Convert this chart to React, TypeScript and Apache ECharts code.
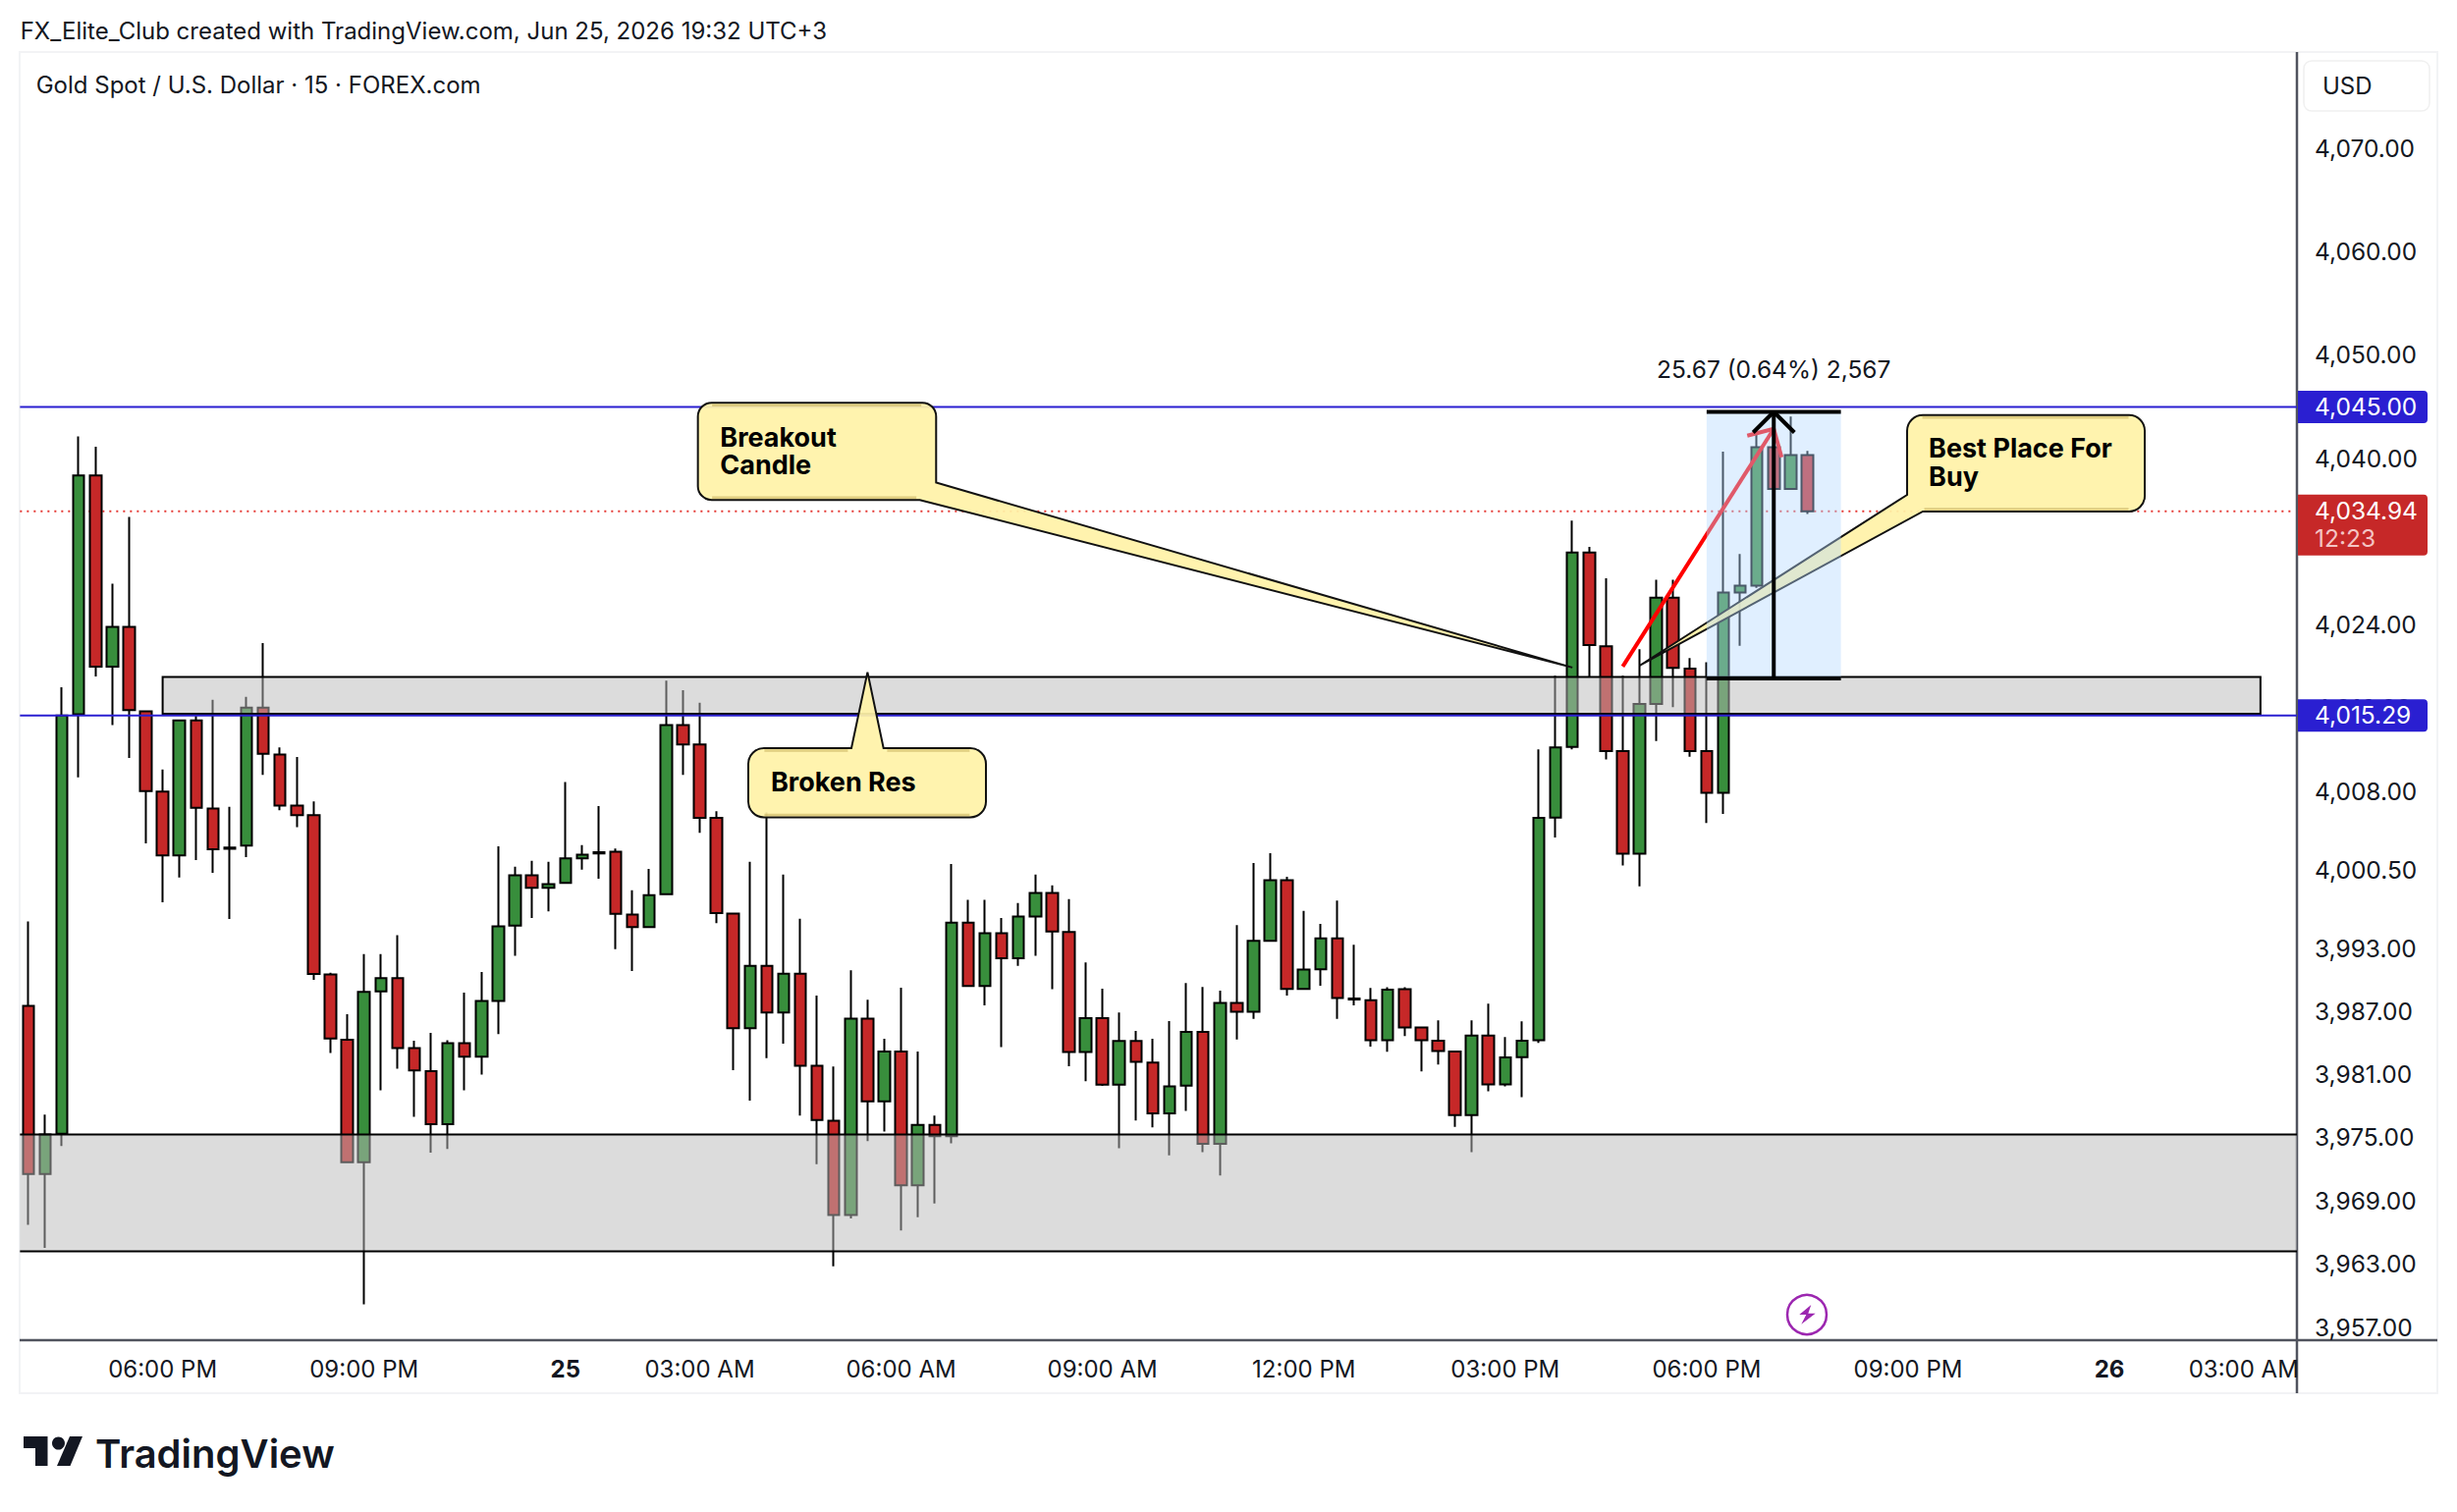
import React, { useEffect, useRef } from "react";
import * as echarts from "echarts";

const opens = [3987.53,3971.55,3975.35,4015.40,4038.39,4019.98,4023.80,4015.69,4007.99,4001.90,
4014.83,4006.38,4002.65,4002.82,4016.04,4011.55,4006.67,4005.75,3990.52,3984.31,
3972.65,3988.91,3990.18,3983.51,3981.32,3976.27,3983.97,3982.70,3987.99,3995.18,
4000.00,3998.80,3999.26,4001.61,4002.19,4002.25,3996.25,3995.04,3998.18,4014.37,
4012.52,4005.48,3996.34,3985.39,3991.35,3986.90,3990.59,3981.83,3976.59,3967.66,
3986.32,3978.43,3983.17,3970.47,3976.21,3975.12,3995.46,3989.42,3994.45,3992.06,
3996.04,3998.31,3994.58,3983.13,3986.36,3980.03,3984.18,3982.13,3977.30,3979.94,
3985.06,3974.41,3987.80,3986.97,3993.73,3999.52,3989.14,3991.01,3993.96,3988.24,
3988.07,3984.26,3989.11,3985.46,3984.22,3983.19,3977.13,3984.69,3980.04,3982.65,
3984.26,4005.51,4012.28,4030.96,4021.95,4011.87,4002.06,4016.40,4026.62,4019.79,
4011.87,4007.88,4027.10,4027.78,4041.11,4037.08,4040.36];
const closes = [3971.55,3975.29,4015.29,4038.39,4019.98,4023.80,4015.81,4008.05,4001.90,4014.83,
4006.44,4002.47,4002.53,4016.04,4011.61,4006.67,4005.75,3990.58,3984.43,3972.65,
3988.85,3990.18,3983.51,3981.38,3976.27,3983.97,3982.70,3987.99,3995.12,4000.00,
3998.80,3999.14,4001.61,4001.96,4002.07,3996.30,3995.04,3998.10,4014.37,4012.52,
4005.48,3996.38,3985.39,3991.35,3986.90,3990.59,3981.83,3976.67,3967.66,3986.32,
3978.43,3983.17,3970.47,3976.21,3975.12,3995.46,3989.42,3994.45,3992.06,3996.04,
3998.31,3994.62,3983.13,3986.36,3980.03,3984.18,3982.21,3977.30,3979.86,3985.06,
3974.41,3987.80,3986.97,3993.73,3999.52,3989.14,3990.98,3993.96,3988.27,3988.14,
3984.26,3989.08,3985.46,3984.26,3983.22,3977.13,3984.69,3980.04,3982.62,3984.22,
4005.48,4012.24,4030.96,4022.06,4011.87,4002.06,4016.40,4026.62,4019.86,4011.87,
4007.88,4027.10,4027.78,4041.11,4037.08,4040.36,4034.94];
const highs = [3995.58,3977.19,4018.01,4042.16,4041.17,4027.97,4034.40,4015.69,4010.12,4014.83,
4015.24,4016.79,4006.55,4017.09,4022.24,4012.24,4011.32,4007.07,3990.69,3986.73,
3992.47,3992.47,3994.26,3984.20,3984.95,3984.26,3988.80,3990.75,4002.76,4000.81,
4001.38,4001.27,4008.91,4002.88,4006.61,4002.54,3998.56,4000.61,4018.64,4017.72,
4016.51,4006.11,3996.34,4001.29,4006.02,4000.07,3995.83,3988.50,3981.75,3990.93,
3988.12,3984.39,3989.25,3983.17,3977.09,4001.08,3997.64,3997.64,3995.92,3997.34,
4000.07,3999.02,3997.72,3991.68,3989.17,3986.90,3985.14,3984.39,3986.07,3989.71,
3989.34,3988.98,3995.24,4001.16,4002.10,3999.86,3996.58,3995.34,3997.58,3993.36,
3989.24,3989.31,3989.31,3985.56,3986.16,3983.19,3986.16,3987.74,3984.56,3986.06,
4012.04,4019.11,4034.04,4031.50,4028.49,4019.11,4021.65,4028.35,4028.35,4020.80,
4020.40,4040.70,4030.82,4042.56,4041.11,4044.09,4040.77];
const lows = [3966.73,3964.54,3974.20,4009.37,4019.05,4014.37,4011.21,4003.05,3997.42,3999.77,
4001.44,4000.23,3995.81,4001.73,4009.60,4006.21,4004.60,3990.00,3983.05,3972.65,
3959.20,3979.49,3981.55,3976.96,3973.57,3973.91,3979.49,3980.98,3984.83,3992.30,
3995.92,3996.55,3999.26,4000.52,3999.66,3992.94,3990.85,3995.04,3998.18,4009.59,
4004.05,3995.42,3981.41,3978.52,3982.54,3983.93,3977.09,3972.48,3962.80,3967.32,
3974.66,3975.58,3966.19,3967.45,3968.75,3974.45,3989.42,3987.58,3983.59,3991.35,
3992.31,3989.13,3981.79,3980.36,3979.90,3973.99,3976.63,3975.96,3973.32,3977.53,
3973.61,3971.40,3984.32,3986.30,3993.73,3988.51,3989.14,3989.44,3986.30,3987.57,
3983.65,3983.15,3984.66,3981.28,3981.95,3976.02,3973.61,3979.40,3979.87,3978.83,
3983.99,4003.61,4012.04,4018.98,4011.09,4000.94,3998.94,4012.85,4016.10,4011.33,
4005.00,4005.85,4021.99,4027.57,4037.08,4037.08,4034.68];

const slotCount = 136;
const timeLabels: Record<number, string> = {
  8: "06:00 PM", 20: "09:00 PM", 32: "25", 40: "03:00 AM", 52: "06:00 AM", 64: "09:00 AM",
  76: "12:00 PM", 88: "03:00 PM", 100: "06:00 PM", 112: "09:00 PM", 124: "26", 132: "03:00 AM",
};
const priceTicks = [4070, 4060, 4050, 4040, 4024, 4016, 4008, 4000.5, 3993, 3987, 3981, 3975, 3969, 3963, 3957];
const levelPrices = [4045, 4015.29];
const lastPrice = 4034.94;
const countdown = "12:23";
const zones = [
  { from: 8, to: 133, top: 4019.0, bottom: 4015.45 },
  { from: -1, to: -1, top: 3975.3, bottom: 3964.2 },
];
const rangeBox = { from: 100, to: 108, mid: 104, top: 4044.53, bottom: 4018.86, text: "25.67 (0.64%) 2,567" };
const trendArrow = { from: [95, 4020.0], to: [104, 4042.9] };
const noteTips = [
  { i: 92, p: 4019.9 },
  { i: 50, p: 4019.45 },
  { i: 96, p: 4020.08 },
];

const AXIS_X = 2339;
const GREEN = "#388e3c";
const RED = "#c62828";
const BLUE = "#2a1fd1";
const INK = "#131722";
const FONT = "Inter, Roboto, sans-serif";
const FILL = "rgba(255,242,168,0.93)";
const SHADE = "rgba(190,165,80,0.5)";

const money = (n: number) =>
  n.toLocaleString("en-US", { minimumFractionDigits: 2, maximumFractionDigits: 2 });

function rounded(x0: number, y0: number, x1: number, y1: number, r: number, tail: string) {
  return tail
    .replace("TL", `M${x0 + r} ${y0}`)
    .replace("TR", `H${x1 - r} A${r} ${r} 0 0 1 ${x1} ${y0 + r}`)
    .replace("BR", `V${y1 - r} A${r} ${r} 0 0 1 ${x1 - r} ${y1}`)
    .replace("BL", `H${x0 + r} A${r} ${r} 0 0 1 ${x0} ${y1 - r}`)
    .replace("END", `V${y0 + r} A${r} ${r} 0 0 1 ${x0 + r} ${y0} Z`);
}

const notePaths = [
  rounded(-890.5, -269.7, -647.9, -170.7, 14, "TL TR V-188.3 L0 0 L-664.5 -170.7 BL END"),
  rounded(-121.4, 77.4, 120.6, 147.8, 16, "TL H-16.4 L0 0 L16.3 77.4 TR BR BL END"),
  rounded(272.5, -255.1, 514.5, -157, 16, "TL TR BR H288.5 L0 0 L272.5 -174 END"),
];
const noteTexts = [
  [{ t: "Breakout", x: -867.9, y: -234.3 }, { t: "Candle", x: -867.9, y: -206 }],
  [{ t: "Broken Res", x: -98.4, y: 111.4 }],
  [{ t: "Best Place For", x: 294.5, y: -221 }, { t: "Buy", x: 294.5, y: -192.3 }],
];
const noteShades = [
  [[-876, -267.2, -663, -267.2], [-876, -173.2, -668, -173.2]],
  [[-105, 79.9, -20, 79.9], [20, 79.9, 104, 79.9], [-105, 145.3, 104, 145.3]],
  [[288, -252.6, 498, -252.6], [290, -159.5, 498, -159.5]],
];

const custom = (z: number, data: any[], renderItem: any) => ({
  type: "custom",
  coordinateSystem: "cartesian2d",
  silent: true,
  z,
  data,
  renderItem,
});

const line = (x1: number, y1: number, x2: number, y2: number, stroke: string, lineWidth: number, lineDash?: number[]) => ({
  type: "line",
  shape: { x1, y1, x2, y2 },
  style: { stroke, lineWidth, lineDash },
});

function buildOption() {
  const zoneSeries = custom(3, zones.map((z) => [z.from, z.top]), (params: any, api: any) => {
    const z = zones[params.dataIndex];
    const leftEdge = params.coordSys.x;
    const xa = z.from < 0 ? leftEdge : api.coord([z.from, z.top])[0];
    const xb = z.to < 0 ? AXIS_X : api.coord([z.to, z.top])[0];
    const ya = api.coord([0, z.top])[1];
    const yb = api.coord([0, z.bottom])[1];
    const fill = { fill: "rgba(185,185,185,0.5)" };
    if (z.from < 0) {
      return {
        type: "group",
        children: [
          { type: "rect", shape: { x: xa, y: ya, width: xb - xa, height: yb - ya }, style: fill },
          line(xa, ya, xb, ya, "#000", 2),
          line(xa, yb, xb, yb, "#000", 2),
        ],
      };
    }
    return {
      type: "rect",
      shape: { x: xa, y: ya, width: xb - xa, height: yb - ya },
      style: { ...fill, stroke: "#000", lineWidth: 2 },
    };
  });

  const levelSeries = custom(4, levelPrices.map((p) => [0, p]), (params: any, api: any) => {
    const y = api.coord([0, levelPrices[params.dataIndex]])[1];
    return line(params.coordSys.x, y, AXIS_X, y, BLUE, 2);
  });

  const lastSeries = custom(1, [[0, lastPrice]], (params: any, api: any) => {
    const y = api.coord([0, lastPrice])[1];
    return line(params.coordSys.x, y, AXIS_X - 4, y, "#e53935", 2, [2, 5]);
  });

  const noteSeries = custom(5, noteTips.map((n) => [n.i, n.p]), (params: any, api: any) => {
    const k = params.dataIndex;
    const [x, y] = api.coord([noteTips[k].i, noteTips[k].p]);
    return {
      type: "group",
      x,
      y,
      children: [
        {
          type: "path",
          shape: { pathData: notePaths[k] },
          style: { fill: FILL, stroke: "#111", lineWidth: 2 },
        },
        ...noteShades[k].map((s) => line(s[0], s[1], s[2], s[3], SHADE, 2.5)),
        ...noteTexts[k].map((t) => ({
          type: "text",
          style: {
            text: t.t, x: t.x, y: t.y, fill: "#000", font: `700 27px ${FONT}`,
            textAlign: "left", textVerticalAlign: "middle",
          },
        })),
      ],
    };
  });

  const arrowSeries = custom(6, [trendArrow.from], (_p: any, api: any) => {
    const a = api.coord(trendArrow.from);
    const b = api.coord(trendArrow.to);
    const red = "#ff0000";
    return {
      type: "group",
      children: [
        line(a[0], a[1], b[0], b[1], red, 4),
        line(b[0], b[1], b[0] - 27, b[1] + 7, red, 4),
        line(b[0], b[1], b[0] + 8, b[1] + 29, red, 4),
      ],
    };
  });

  const rangeSeries = custom(7, [[rangeBox.from, rangeBox.top]], (_p: any, api: any) => {
    const [xa, ya] = api.coord([rangeBox.from, rangeBox.top]);
    const [xb, yb] = api.coord([rangeBox.to, rangeBox.bottom]);
    const xm = api.coord([rangeBox.mid, rangeBox.top])[0];
    return {
      type: "group",
      children: [
        { type: "rect", shape: { x: xa, y: ya, width: xb - xa, height: yb - ya }, style: { fill: "rgba(180,215,254,0.41)" } },
        line(xa, ya, xb, ya, "#000", 4),
        line(xa, yb, xb, yb, "#000", 4),
        line(xm, ya, xm, yb, "#000", 4),
        line(xm, ya, xm - 21, ya + 21, "#000", 4),
        line(xm, ya, xm + 21, ya + 21, "#000", 4),
        {
          type: "text",
          style: {
            text: rangeBox.text, x: xm, y: ya - 43.5, fill: INK, font: `24.5px ${FONT}`,
            textAlign: "center", textVerticalAlign: "middle",
          },
        },
      ],
    };
  });

  const tickSeries = custom(8, priceTicks.map((p) => [0, p]), (params: any, api: any) => {
    const p = priceTicks[params.dataIndex];
    return {
      type: "text",
      style: {
        text: money(p), x: 2357, y: api.coord([0, p])[1] - 0.5, fill: INK, font: `24.5px ${FONT}`,
        textAlign: "left", textVerticalAlign: "middle",
      },
    };
  });

  const tagSeries = custom(9, levelPrices.map((p) => [0, p]), (params: any, api: any) => {
    const p = levelPrices[params.dataIndex];
    const y = api.coord([0, p])[1];
    return {
      type: "group",
      children: [
        { type: "rect", shape: { x: AXIS_X + 1, y: y - 16.5, width: 132, height: 33, r: [0, 4, 4, 0] }, style: { fill: BLUE } },
        {
          type: "text",
          style: { text: money(p), x: 2357, y: y - 1, fill: "#fff", font: `24.5px ${FONT}`, textAlign: "left", textVerticalAlign: "middle" },
        },
      ],
    };
  });

  const lastTagSeries = custom(9, [[0, lastPrice]], (_p: any, api: any) => {
    const y = api.coord([0, lastPrice])[1];
    return {
      type: "group",
      children: [
        { type: "rect", shape: { x: AXIS_X + 1, y: y - 17, width: 132, height: 62, r: [0, 4, 4, 0] }, style: { fill: RED } },
        {
          type: "text",
          style: { text: money(lastPrice), x: 2357, y: y - 1, fill: "#fff", font: `24.5px ${FONT}`, textAlign: "left", textVerticalAlign: "middle" },
        },
        {
          type: "text",
          style: { text: countdown, x: 2357, y: y + 27, fill: "#f4c4c4", font: `24.5px ${FONT}`, textAlign: "left", textVerticalAlign: "middle" },
        },
      ],
    };
  });

  const frame = "#f2f3f5";
  const boltX = 1840;
  const boltY = 1339;
  return {
    animation: false,
    backgroundColor: "#ffffff",
    grid: { left: 20.35, top: 53, width: slotCount * 17.09, height: 1312, containLabel: false },
    xAxis: {
      type: "category",
      data: Array.from({ length: slotCount }, (_, i) => String(i)),
      boundaryGap: true,
      axisLine: { show: false },
      axisTick: { show: false },
      splitLine: { show: false },
      axisLabel: {
        interval: 0,
        margin: 17,
        color: INK,
        fontFamily: FONT,
        fontSize: 24,
        formatter: (v: string) => {
          const t = timeLabels[Number(v)];
          if (!t) return "";
          return t.length === 2 ? `{b|${t}}` : t;
        },
        rich: { b: { fontWeight: 700, fontSize: 24, fontFamily: FONT, color: INK } },
      },
    },
    yAxis: {
      type: "log",
      logBase: 10,
      min: 3955.8,
      max: 4079.46,
      position: "right",
      axisLine: { show: false },
      axisTick: { show: false },
      axisLabel: { show: false },
      splitLine: { show: false },
      minorSplitLine: { show: false },
    },
    series: [
      lastSeries,
      {
        type: "candlestick",
        z: 2,
        silent: true,
        barWidth: 12,
        data: opens.map((o, i) => [o, closes[i], lows[i], highs[i]]),
        itemStyle: { color: GREEN, color0: RED, borderColor: "#000", borderColor0: "#000", borderColorDoji: "#000", borderWidth: 2 },
      },
      zoneSeries,
      levelSeries,
      noteSeries,
      arrowSeries,
      rangeSeries,
      tickSeries,
      tagSeries,
      lastTagSeries,
    ],
    graphic: [
      { type: "rect", shape: { x: 20, y: 53, width: 2462, height: 1366 }, style: { fill: "none", stroke: frame, lineWidth: 2 }, z: 0 },
      line(AXIS_X, 53, AXIS_X, 1419, "#50535e", 2.5),
      line(20, 1365, 2482, 1365, "#50535e", 2.5),
      { type: "rect", shape: { x: 2346, y: 62, width: 128, height: 51, r: 8 }, style: { fill: "#fff", stroke: "#f0f0f0", lineWidth: 1.5 } },
      { type: "text", style: { text: "USD", x: 2365, y: 87, fill: INK, font: `24px ${FONT}`, textVerticalAlign: "middle" } },
      { type: "text", style: { text: "FX_Elite_Club created with TradingView.com, Jun 25, 2026 19:32 UTC+3", x: 20.7, y: 31, fill: INK, font: `24px ${FONT}`, textVerticalAlign: "middle" } },
      { type: "text", style: { text: "Gold Spot / U.S. Dollar · 15 · FOREX.com", x: 36.7, y: 86, fill: INK, font: `24px ${FONT}`, textVerticalAlign: "middle" } },
      { type: "circle", shape: { cx: boltX, cy: boltY, r: 20 }, style: { fill: "#fff", stroke: "#9c27b0", lineWidth: 2.5 } },
      {
        type: "polygon",
        shape: { points: [[boltX + 4.3, boltY - 10], [boltX - 7.7, boltY], [boltX - 0.7, boltY], [boltX - 5.7, boltY + 9.7], [boltX + 8.7, boltY - 1.3], [boltX + 1.3, boltY - 1.3]] },
        style: { fill: "#9c27b0" },
      },
      { type: "polygon", shape: { points: [[24, 1463], [48.5, 1463], [48.5, 1493], [36, 1493], [36, 1475], [24, 1475]] }, style: { fill: INK } },
      { type: "circle", shape: { cx: 59.5, cy: 1470, r: 6.5 }, style: { fill: INK } },
      { type: "polygon", shape: { points: [[71, 1463], [84, 1463], [71.5, 1493], [58, 1493]] }, style: { fill: INK } },
      { type: "text", style: { text: "TradingView", x: 97, y: 1480, fill: INK, font: `600 40px ${FONT}`, textVerticalAlign: "middle" } },
    ],
  };
}

export default function App() {
  const ref = useRef<HTMLDivElement>(null);
  useEffect(() => {
    document.body.style.margin = "0";
    const chart = echarts.init(ref.current!, undefined, { renderer: "svg" });
    chart.setOption(buildOption() as any);
    return () => chart.dispose();
  }, []);
  return <div ref={ref} style={{ width: 2502, height: 1540 }} />;
}
